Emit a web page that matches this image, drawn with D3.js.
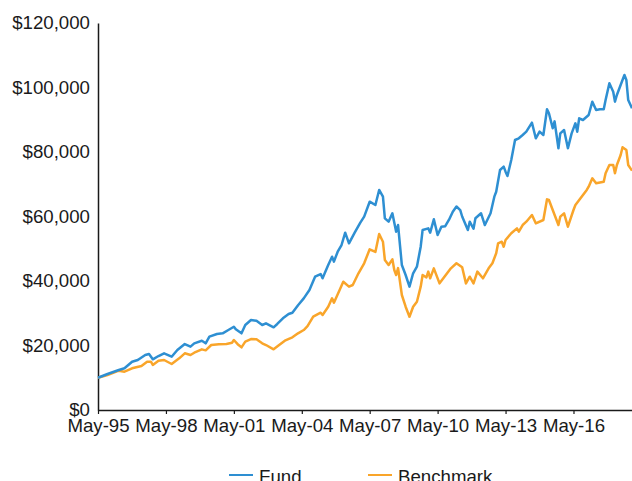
<!DOCTYPE html>
<html>
<head>
<meta charset="utf-8">
<script src="https://cdn.jsdelivr.net/npm/d3@7"></script>
<style>
  html, body { margin: 0; padding: 0; background: #fff; }
  svg { display: block; font-family: "Liberation Sans", Arial, sans-serif; }
</style>
</head>
<body>
<div id="chart"></div>
<script>
// Growth of $10,000: fund vs benchmark, monthly points

const fundMonths = [
  '1995-05','1995-10','1996-04','1996-07','1996-11','1997-02','1997-06','1997-08','1997-10','1998-01',
  '1998-04','1998-08','1998-11','1999-03','1999-06','1999-08','1999-12','2000-02','2000-04','2000-08',
  '2000-11','2001-02','2001-05','2001-06','2001-09','2001-11','2002-02','2002-05','2002-08','2002-10',
  '2003-02','2003-04','2003-07','2003-10','2003-12','2004-03','2004-06','2004-09','2004-12','2005-03',
  '2005-04','2005-07','2005-09','2005-10','2005-12','2006-02','2006-04','2006-06','2006-09','2006-12',
  '2007-02','2007-05','2007-08','2007-10','2007-12','2008-01','2008-03','2008-05','2008-07','2008-08',
  '2008-10','2008-12','2009-02','2009-04','2009-06','2009-08','2009-09','2009-12','2010-01','2010-03',
  '2010-05','2010-07','2010-09','2010-11','2011-01','2011-03','2011-05','2011-06','2011-09','2011-10',
  '2011-12','2012-01','2012-04','2012-06','2012-09','2012-11','2012-12','2013-02','2013-04','2013-05',
  '2013-06','2013-08','2013-10','2013-12','2014-02','2014-04','2014-07','2014-09','2014-11','2015-01',
  '2015-03','2015-04','2015-06','2015-07','2015-09','2015-10','2015-12','2016-02','2016-04','2016-06',
  '2016-07','2016-08','2016-10','2017-01','2017-03','2017-05','2017-07','2017-09','2017-10','2017-12',
  '2018-02','2018-03','2018-04','2018-07','2018-08','2018-09','2018-10','2018-12'
];
const fundValues = [
  10000, 11160, 12400, 12930, 14980, 15500, 17050, 17360, 15720, 16740,
  17580, 16530, 18600, 20460, 19630, 20680, 21490, 20680, 22730, 23570,
  23780, 24800, 25830, 25020, 23780, 26360, 27900, 27690, 26360, 26880,
  25640, 26670, 28430, 29770, 30170, 32500, 34600, 37200, 41330, 42170,
  40830, 44960, 47540, 45990, 49090, 51160, 54980, 51690, 54980, 58080,
  59940, 64590, 63560, 68220, 66150, 59440, 58390, 60990, 55290, 57360,
  44960, 41860, 38240, 42390, 44440, 50640, 55810, 56330, 54980, 59130,
  54260, 56800, 57000, 59000, 61500, 63100, 62000, 60000, 55810, 58390,
  56200, 59440, 60990, 57360, 60990, 66150, 67690, 74420, 75450, 73900,
  72560, 77520, 83720, 84250, 85270, 86300, 89090, 84250, 86300, 85270,
  93240, 92000, 87350, 89500, 81150, 85790, 86820, 81150, 85790, 88900,
  86300, 90450, 89920, 91470, 95610, 93030, 93240, 93240, 96120, 101300,
  98700, 95610, 97680, 102330, 103880, 102330, 96120, 93550
];

const benchMonths = [
  '1995-05','1995-10','1996-04','1996-07','1996-11','1997-04','1997-07','1997-09','1997-10','1998-01',
  '1998-04','1998-08','1998-12','1999-03','1999-06','1999-08','1999-12','2000-02','2000-05','2000-09',
  '2001-01','2001-04','2001-05','2001-07','2001-09','2001-11','2002-02','2002-05','2002-08','2002-10',
  '2003-02','2003-05','2003-08','2003-12','2004-03','2004-06','2004-08','2004-11','2005-03','2005-04',
  '2005-07','2005-09','2005-10','2006-01','2006-03','2006-06','2006-08','2006-11','2007-02','2007-05',
  '2007-08','2007-10','2007-12','2008-01','2008-03','2008-05','2008-06','2008-07','2008-08','2008-10',
  '2008-12','2009-02','2009-04','2009-06','2009-08','2009-09','2009-11','2009-12','2010-01','2010-03',
  '2010-06','2010-08','2010-10','2010-12','2011-03','2011-06','2011-08','2011-10','2011-12','2012-02',
  '2012-05','2012-08','2012-10','2012-12','2013-01','2013-03','2013-04','2013-05','2013-08','2013-11',
  '2013-12','2014-02','2014-04','2014-07','2014-09','2015-01','2015-03','2015-04','2015-06','2015-09',
  '2015-10','2015-12','2016-02','2016-05','2016-06','2016-08','2016-12','2017-01','2017-03','2017-05',
  '2017-09','2017-10','2017-12','2018-02','2018-03','2018-04','2018-06','2018-07','2018-09','2018-10',
  '2018-12'
];
const benchValues = [
  10000, 10850, 12190, 11880, 12930, 13640, 14980, 14980, 13950, 15290,
  15500, 14260, 16020, 17580, 17050, 17770, 18810, 18500, 20150, 20360,
  20460, 20880, 21700, 20400, 19430, 21190, 22000, 21910, 20680, 20150,
  18810, 20150, 21490, 22530, 23780, 24800, 26000, 28930, 30170, 29460,
  32030, 34640, 33270, 37210, 39780, 38240, 38760, 42390, 45490, 49830,
  49000, 54570, 52190, 46510, 44960, 46720, 43410, 41860, 44000, 35660,
  32030, 28930, 32030, 33580, 38240, 41860, 41140, 42900, 40830, 43930,
  39270, 40830, 42390, 43930, 45490, 44250, 39270, 41330, 39270, 42900,
  40830, 43930, 45490, 48600, 51690, 52190, 50640, 52710, 54790, 56330,
  55290, 57360, 58390, 60470, 57880, 58920, 65330, 65120, 62020, 57360,
  59940, 60990, 56840, 62020, 63560, 65120, 68220, 69250, 71850, 70290,
  70790, 73390, 75970, 75970, 73390, 75970, 79070, 81460, 80620, 75970,
  74210
];

const yTicks = [0, 20000, 40000, 60000, 80000, 100000, 120000];
const xTickMonths = ['1995-05','1998-05','2001-05','2004-05','2007-05','2010-05','2013-05','2016-05'];
const seriesNames = ['Fund', 'Benchmark'];
const seriesColors = ['#2e8fd2', '#f9a52a'];

const width = 632;
const height = 481;
const margin = { top: 23, right: 0, bottom: 71, left: 98 };

const parseMonth = d3.timeParse('%Y-%m');
const fmtMonth = d3.timeFormat('%b-%y');
const fmtMoney = d => '$' + d3.format(',')(d);

const fundData = fundMonths.map((m, i) => ({ date: parseMonth(m), value: fundValues[i] }));
const benchData = benchMonths.map((m, i) => ({ date: parseMonth(m), value: benchValues[i] }));

const svg = d3.select('#chart')
  .append('svg')
  .attr('width', width)
  .attr('height', height);

const x = d3.scaleTime()
  .domain([parseMonth('1995-05'), parseMonth('2018-12')])
  .range([margin.left, width - margin.right]);

const y = d3.scaleLinear()
  .domain([0, 120000])
  .range([height - margin.bottom, margin.top]);

// y axis: line + labels, no tick marks
const yAxis = svg.append('g')
  .attr('transform', `translate(${margin.left},0)`)
  .call(d3.axisLeft(y).tickValues(yTicks).tickFormat(fmtMoney).tickSize(0).tickPadding(8));
yAxis.select('.domain').attr('stroke', '#1a1a1a').attr('stroke-width', 1.5);
yAxis.selectAll('text')
  .attr('fill', '#1a1a1a')
  .style('font-size', '18.67px');

// x axis: full-width baseline with short ticks
const xAxis = svg.append('g')
  .attr('transform', `translate(0,${height - margin.bottom})`)
  .call(d3.axisBottom(x)
    .tickValues(xTickMonths.map(parseMonth))
    .tickFormat(fmtMonth)
    .tickSizeInner(4)
    .tickSizeOuter(0)
    .tickPadding(5));
xAxis.select('.domain').attr('stroke', '#1a1a1a').attr('stroke-width', 1.5);
xAxis.selectAll('.tick line').attr('stroke', '#1a1a1a').attr('stroke-width', 1.2);
xAxis.selectAll('text')
  .attr('fill', '#1a1a1a')
  .style('font-size', '18.67px');

const line = d3.line()
  .x(d => x(d.date))
  .y(d => y(d.value));

// benchmark drawn first so the fund line sits on top
[benchData, fundData].forEach((data, i) => {
  svg.append('path')
    .datum(data)
    .attr('fill', 'none')
    .attr('stroke', seriesColors[1 - i])
    .attr('stroke-width', 2.5)
    .attr('stroke-linejoin', 'round')
    .attr('d', line);
});

// legend at the bottom
const legendX = [229, 368];
const legend = svg.append('g');
seriesNames.forEach((name, i) => {
  const g = legend.append('g').attr('transform', `translate(${legendX[i]},475)`);
  g.append('line')
    .attr('x1', 0).attr('x2', 24)
    .attr('stroke', seriesColors[i])
    .attr('stroke-width', 2);
  g.append('text')
    .attr('x', 30)
    .attr('y', 7.5)
    .attr('fill', '#1a1a1a')
    .style('font-size', '18.67px')
    .text(name);
});
</script>
</body>
</html>
